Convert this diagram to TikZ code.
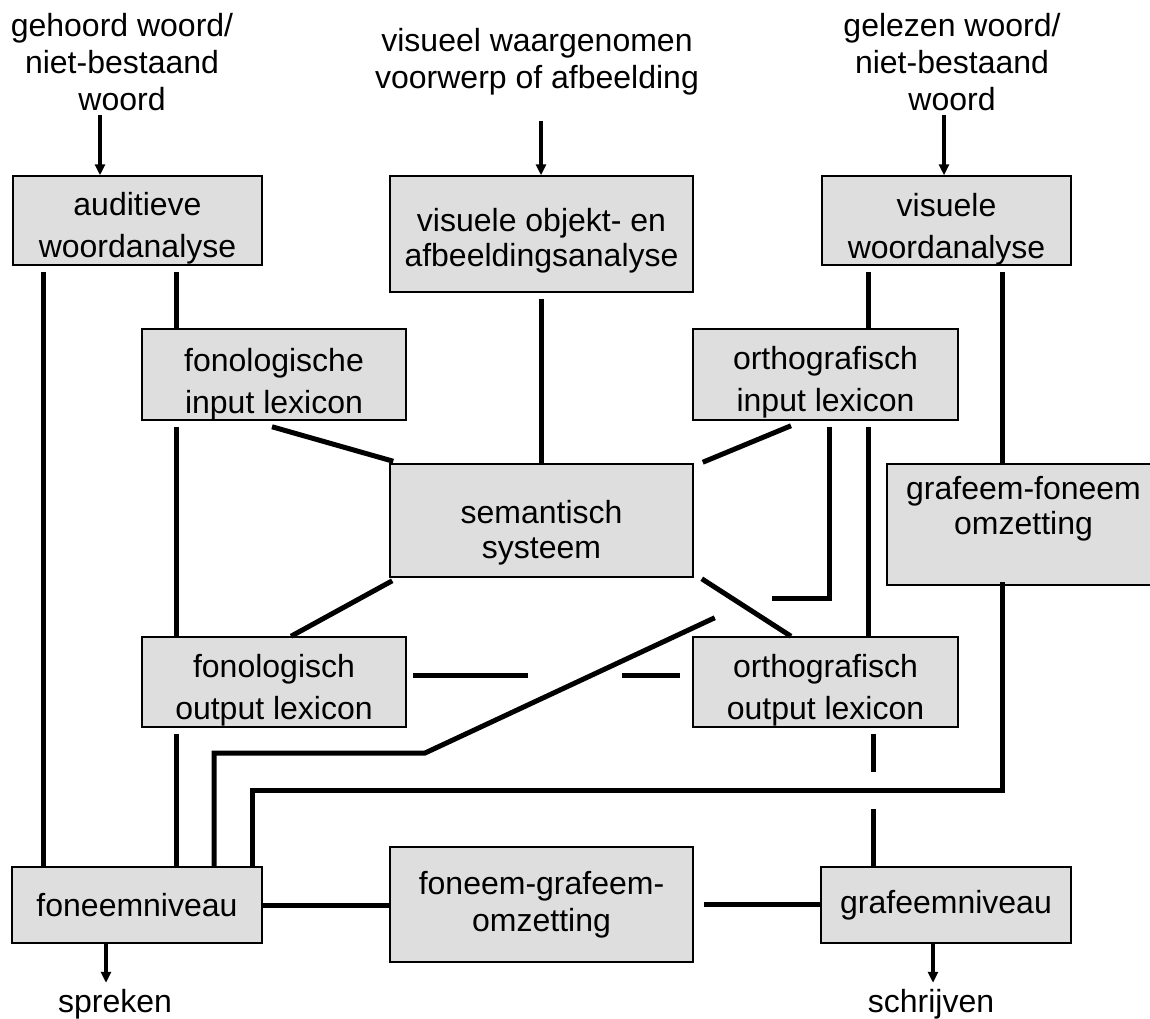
\documentclass[tikz,border=0pt]{standalone}
\usepackage{fontspec}
\setmainfont{Liberation Sans}
\usetikzlibrary{arrows.meta,calc}
\definecolor{boxfill}{RGB}{222,222,222}
\begin{document}
\begin{tikzpicture}[x=0.5pt,y=-0.5pt,
  box/.style={draw=black, line width=0.75pt, fill=boxfill, align=center, inner sep=0pt, font=\fontsize{16}{19}\selectfont},
  txt/.style={align=center, inner sep=0pt, font=\fontsize{16}{19}\selectfont},
  lbl/.style={align=center, inner sep=0pt, font=\fontsize{16}{18.5}\selectfont},
  conn/.style={line width=2.5pt},
  arr/.style={line width=1.6pt, -{Triangle[width=5pt,length=5.5pt]}}]
\useasboundingbox (0,0) rectangle (1150,1018);

% input labels
\node[lbl] (T1) at (122,62) {gehoord woord/\\niet-bestaand\\woord};
\node[lbl] (T2) at (537,62) {visueel waargenomen\\voorwerp of afbeelding};
\node[lbl] (T3) at (952,62) {gelezen woord/\\niet-bestaand\\woord};

% boxes
\node[box, minimum width=124.5pt, minimum height=44.5pt] (aud) at (137.5,220.5) {};
\node[box, minimum width=151.5pt, minimum height=58pt] (visobj) at (541.5,234) {};
\node[box, minimum width=124.5pt, minimum height=44.5pt] (viswoord) at (946.5,220.5) {};
\node[box, minimum width=132pt, minimum height=45.5pt] (fonin) at (274,374.5) {};
\node[box, minimum width=132.5pt, minimum height=45.5pt] (orthin) at (825.5,374.5) {};
\node[box, minimum width=151.5pt, minimum height=56.5pt] (sem) at (541.5,520.5) {};
\node[box, minimum width=136.5pt, minimum height=60.5pt] (gf) at (1023.5,524.5) {};
\node[box, minimum width=132pt, minimum height=45pt] (fonout) at (274,682) {};
\node[box, minimum width=132.5pt, minimum height=45pt] (orthout) at (825.5,682) {};
\node[box, minimum width=125pt, minimum height=38pt] (foneem) at (137,905) {foneemniveau};
\node[box, minimum width=151.5pt, minimum height=57.5pt] (fg) at (541.5,904.5) {};
\node[box, minimum width=125pt, minimum height=38pt] (grafeem) at (946,905) {grafeemniveau};

% box texts
\node[txt] (audT) at ($(aud.center)+(0,8)$) {auditieve\\[2pt]woordanalyse};
\node[txt] (visobjT) at ($(visobj.center)+(0,7)$) {visuele objekt- en\\[-1.5pt]afbeeldingsanalyse};
\node[txt] (viswoordT) at ($(viswoord.center)+(0,9)$) {visuele\\[2pt]woordanalyse};
\node[txt] (foninT) at ($(fonin.center)+(0,10)$) {fonologische\\[2pt]input lexicon};
\node[txt] (orthinT) at ($(orthin.center)+(0,8)$) {orthografisch\\[2pt]input lexicon};
\node[txt] (semT) at ($(sem.center)+(0,12.5)$) {semantisch\\[-1.5pt]systeem};
\node[txt] (gfT) at ($(gf.center)+(0,-15.5)$) {grafeem-foneem\\[-1.5pt]omzetting};
\node[txt] (fonoutT) at ($(fonout.center)+(0,8.5)$) {fonologisch\\[2pt]output lexicon};
\node[txt] (orthoutT) at ($(orthout.center)+(0,8)$) {orthografisch\\[2pt]output lexicon};
\node[txt] (fgT) at ($(fg.center)+(0,0.5)$) {foneem-grafeem-\\[-0.5pt]omzetting};

% output labels
\node[lbl] (spr) at (115,1004) {spreken};
\node[lbl] (sch) at (931,1004) {schrijven};

% input arrows
\draw[arr] ($(100,0 |- T1.south)+(0,4)$) -- (100,0 |- aud.north);
\draw[arr] ($(541,0 |- T2.south)+(0,25)$) -- (541,0 |- visobj.north);
\draw[arr] ($(944,0 |- T3.south)+(0,4)$) -- (944,0 |- viswoord.north);

% vertical connectors
\draw[conn] ($(43,0 |- aud.south)+(0,6)$) -- (43,0 |- foneem.north);
\draw[conn] ($(176,0 |- aud.south)+(0,6)$) -- (176,0 |- fonin.north);
\draw[conn] ($(176,0 |- fonin.south)+(0,6)$) -- (176,0 |- fonout.north);
\draw[conn] ($(176,0 |- fonout.south)+(0,6)$) -- (176,0 |- foneem.north);
\draw[conn] ($(541,0 |- visobj.south)+(0,6)$) -- (541,0 |- sem.north);
\draw[conn] ($(868,0 |- viswoord.south)+(0,6)$) -- (868,0 |- orthin.north);
\draw[conn] ($(1002,0 |- viswoord.south)+(0,6)$) -- (1002,0 |- gf.north);
\draw[conn] ($(868,0 |- orthin.south)+(0,6)$) -- (868,0 |- orthout.north);

% diagonals around the semantic system
\draw[conn] ($(272,0 |- fonin.south)+(0,6)$) -- ($(sem.north west)+(4,-2)$);
\draw[conn] ($(791,0 |- orthin.south)+(0,5)$) -- ($(sem.north east)+(9,-1)$);
\draw[conn] ($(sem.south west)+(3,3)$) -- (291,0 |- fonout.north);
\draw[conn] ($(sem.south east)+(8,1)$) -- (791,0 |- orthout.north);

% bracket from orthographic input lexicon
\draw[conn] ($(829,0 |- orthin.south)+(0,6)$) -- ++(0,172) -- ++(-57,0);

% grafeem-foneem omzetting to foneemniveau
\draw[conn] ($(1002,0 |- gf.south)+(0,-4)$) -- ++(0,209) -| (252,0 |- foneem.north);

% long diagonal to foneemniveau
\draw[conn] ($(sem.south east)+(21,40)$) -- (425,753) -| (214,0 |- foneem.north);

% broken horizontal between output lexicons
\draw[conn] ($(fonout.east)+(6,-7)$) -- ++(115,0);
\draw[conn] ($(orthout.west)+(-70,-7)$) -- ++(58,0);

% broken vertical from orthographic output lexicon to grafeemniveau
\draw[conn] ($(873,0 |- orthout.south)+(0,6)$) -- ++(0,38);
\draw[conn] ($(873,0 |- grafeem.north)+(0,-57)$) -- (873,0 |- grafeem.north);

% bottom row
\draw[conn] (foneem.east) -- (foneem.east -| fg.west);
\draw[conn] ($(fg.east)+(10,0)$) -- (fg.east -| grafeem.west);

% output arrows
\draw[arr] (106,0 |- foneem.south) -- ++(0,39);
\draw[arr] (933,0 |- grafeem.south) -- ++(0,39);
\end{tikzpicture}
\end{document}
